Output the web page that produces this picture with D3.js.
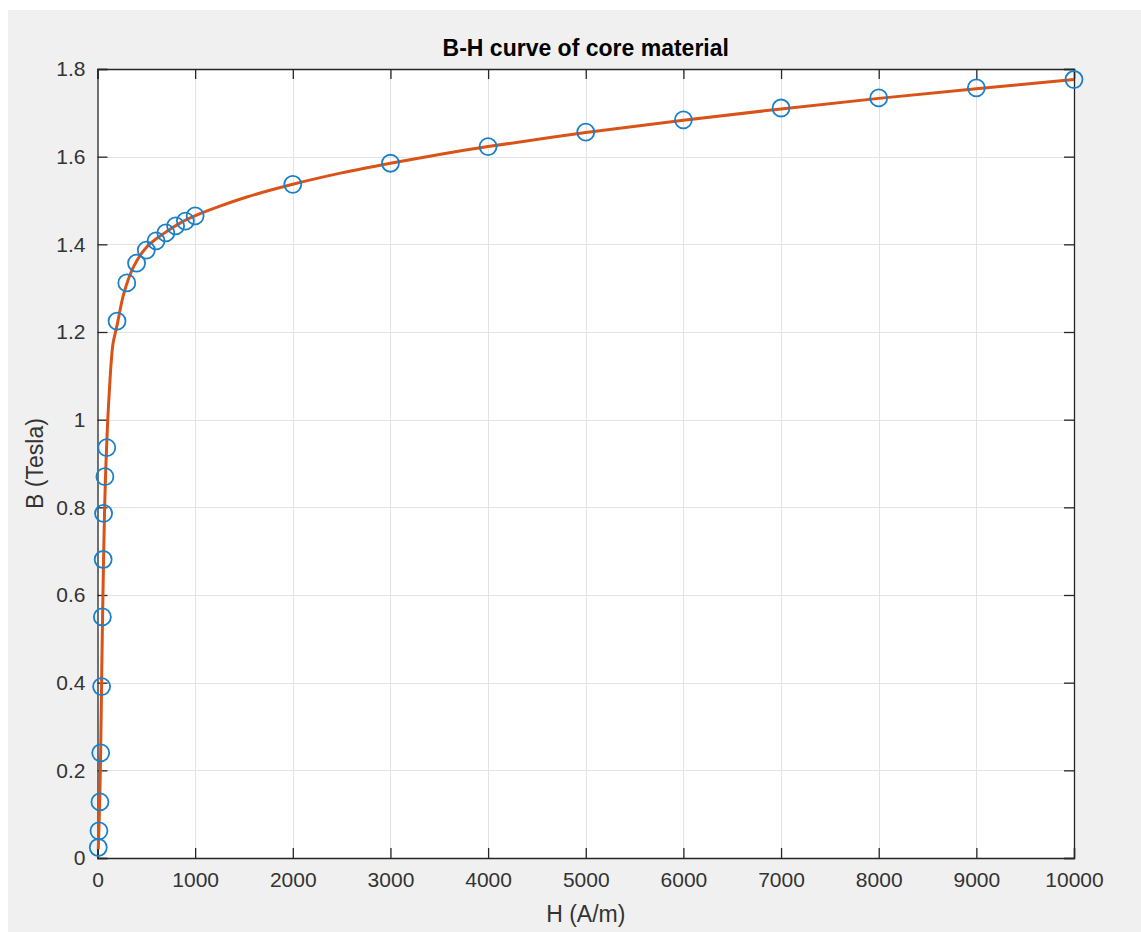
<!DOCTYPE html>
<html>
<head>
<meta charset="utf-8">
<script src="https://cdn.jsdelivr.net/npm/d3@7.9.0/dist/d3.min.js"></script>
<style>
  body { margin: 0; background: #fff; }
  text { font-family: "Liberation Sans", Arial, sans-serif; }
</style>
</head>
<body>
<div id="chart"></div>
<script>
// measured points (circles)
const hData = [8, 15, 25, 33, 42, 50, 58, 62, 76, 95, 200, 300, 400, 500, 600, 700, 800, 900, 1000,
  2000, 3000, 4000, 5000, 6000, 7000, 8000, 9000, 10000];
const bData = [0.024, 0.062, 0.128, 0.240, 0.391, 0.550, 0.681, 0.786, 0.870, 0.936, 1.225, 1.312, 1.357,
  1.387, 1.408, 1.426, 1.442, 1.453, 1.465, 1.537, 1.585, 1.623, 1.656, 1.684, 1.711, 1.734, 1.757, 1.776];

// fitted curve
const hFit = [8, 15, 24, 33, 42, 52, 62, 72, 82, 92, 105, 120, 140, 160, 200, 270, 370, 500, 680, 850,
  1020, 1240, 1530, 2000, 2500, 3000, 3500, 4000, 5000, 6000, 7000, 8000, 9000, 10000];
const bFit = [0.02, 0.07, 0.14, 0.25, 0.40, 0.55, 0.68, 0.79, 0.87, 0.93, 1.0, 1.06, 1.13, 1.175, 1.215,
  1.288, 1.349, 1.393, 1.425, 1.449, 1.467, 1.486, 1.508, 1.537, 1.563, 1.585, 1.605, 1.623, 1.655,
  1.683, 1.709, 1.733, 1.755, 1.776];

const xTicks = [0, 1000, 2000, 3000, 4000, 5000, 6000, 7000, 8000, 9000, 10000];
const yTicks = [0, 0.2, 0.4, 0.6, 0.8, 1, 1.2, 1.4, 1.6, 1.8];

const W = 1141, H = 932;
const margin = { left: 97.5, right: 1074, top: 69, bottom: 858 };

const svg = d3.select("#chart").append("svg")
  .attr("width", W).attr("height", H);

// figure background
svg.append("rect").attr("x", 8).attr("y", 10).attr("width", W - 8).attr("height", H - 10)
  .attr("fill", "#f0f0f0");

const x = d3.scaleLinear().domain([0, 10000]).range([margin.left, margin.right]);
const y = d3.scaleLinear().domain([0, 1.8]).range([margin.bottom, margin.top]);

// plot area
svg.append("rect")
  .attr("x", x(0)).attr("y", y(1.8))
  .attr("width", x(10000) - x(0)).attr("height", y(0) - y(1.8))
  .attr("fill", "#fff");

// grid
const grid = svg.append("g").attr("stroke", "#e3e3e3").attr("stroke-width", 1);
grid.selectAll(".gx").data(xTicks.slice(1, -1)).enter().append("line")
  .attr("x1", d => Math.round(x(d)) + 0.5).attr("x2", d => Math.round(x(d)) + 0.5)
  .attr("y1", y(0)).attr("y2", y(1.8));
grid.selectAll(".gy").data(yTicks.slice(1, -1)).enter().append("line")
  .attr("y1", d => Math.round(y(d)) + 0.5).attr("y2", d => Math.round(y(d)) + 0.5)
  .attr("x1", x(0)).attr("x2", x(10000));

const tickLen = 10;
const fmtX = d => String(d);
const fmtY = d => String(d);

// axes (ticks inward)
const axB = svg.append("g").attr("transform", `translate(0,${y(0)})`)
  .call(d3.axisBottom(x).tickValues(xTicks).tickSize(-tickLen).tickPadding(14).tickFormat(fmtX));
const axT = svg.append("g").attr("transform", `translate(0,${y(1.8)})`)
  .call(d3.axisTop(x).tickValues(xTicks).tickSize(-tickLen).tickFormat(""));
const axL = svg.append("g").attr("transform", `translate(${x(0)},0)`)
  .call(d3.axisLeft(y).tickValues(yTicks).tickSize(-tickLen).tickPadding(12).tickFormat(fmtY));
const axR = svg.append("g").attr("transform", `translate(${x(10000)},0)`)
  .call(d3.axisRight(y).tickValues(yTicks).tickSize(-tickLen).tickFormat(""));

[axB, axT, axL, axR].forEach(a => {
  a.selectAll("path").attr("stroke", "#262626").attr("stroke-width", 1.3);
  a.selectAll("line").attr("stroke", "#262626").attr("stroke-width", 1.3);
  a.selectAll("text").attr("fill", "#333").style("font-size", "21px")
    .style("font-family", "'Liberation Sans', Arial, sans-serif");
});

// fitted curve
const fitData = hFit.map((h, i) => ({ h, b: bFit[i] }));
svg.append("path")
  .datum(fitData)
  .attr("fill", "none")
  .attr("stroke", "#D95319")
  .attr("stroke-width", 3)
  .attr("d", d3.line().x(d => x(d.h)).y(d => y(d.b)).curve(d3.curveCatmullRom.alpha(0.5)));

// measured points
const pts = hData.map((h, i) => ({ h, b: bData[i] }));
svg.append("g").selectAll("circle").data(pts).enter().append("circle")
  .attr("cx", d => x(d.h)).attr("cy", d => y(d.b)).attr("r", 8.5)
  .attr("fill", "none").attr("stroke", "#1a80c8").attr("stroke-width", 1.8);

// title and labels
svg.append("text")
  .attr("x", (x(0) + x(10000)) / 2).attr("y", 56)
  .attr("text-anchor", "middle")
  .style("font-size", "23px").style("font-weight", "bold").attr("fill", "#000")
  .text("B-H curve of core material");

svg.append("text")
  .attr("x", (x(0) + x(10000)) / 2).attr("y", 922)
  .attr("text-anchor", "middle")
  .style("font-size", "23px").attr("fill", "#333")
  .text("H (A/m)");

svg.append("text")
  .attr("transform", `translate(43,${(y(0) + y(1.8)) / 2}) rotate(-90)`)
  .attr("text-anchor", "middle")
  .style("font-size", "23px").attr("fill", "#333")
  .text("B (Tesla)");
</script>
</body>
</html>
